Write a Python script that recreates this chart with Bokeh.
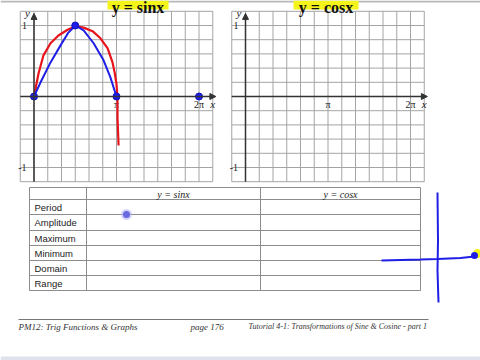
import math
from bokeh.plotting import figure
from bokeh.models import Range1d, Arrow, NormalHead
from bokeh.core.properties import value
from bokeh.embed import file_html
from bokeh.resources import INLINE

PI = math.pi

# ---------------- data ----------------
graph_titles = ["y = sinx", "y = cosx"]
x_tick_labels = ["π", "2π"]
x_tick_values = [PI, 2 * PI]
y_tick_labels = ["1", "-1"]
y_tick_values = [1.0, -1.0]

# hand-drawn sketch on the sine graph (x in radians, y in units)
red_x = [0.0, 0.17, 0.36, 0.63, 0.93, 1.28, 1.58, 1.89, 2.23, 2.53, 2.80, 2.99, 3.07, 3.14, 3.18, 3.18, 3.22]
red_y = [0.0, 0.32, 0.58, 0.75, 0.86, 0.94, 0.99, 0.97, 0.92, 0.82, 0.68, 0.48, 0.34, 0.18, -0.01, -0.30, -0.69]
blue_x = [0.0, 0.25, 0.63, 1.01, 1.31, 1.58, 1.89, 2.27, 2.65, 2.91, 3.14]
blue_y = [0.0, 0.20, 0.48, 0.72, 0.90, 1.0, 0.93, 0.75, 0.51, 0.27, 0.0]
dot_x = [0.0, PI / 2, PI, 2 * PI]
dot_y = [0.0, 1.0, 0.0, 0.0]

# table
col_headers = ["y = sinx", "y = cosx"]
row_labels = ["Period", "Amplitude", "Maximum", "Minimum", "Domain", "Range"]

# footer
footer_left = "PM12: Trig Functions & Graphs"
footer_mid = "page 176"
footer_right = "Tutorial 4-1: Transformations of Sine & Cosine - part 1"

# hand strokes at the right of the page (page coordinates)
stroke_v_x = [437, 437.5, 437, 438]
stroke_v_y = [192, 240, 270, 302]
stroke_h_x = [381, 420, 437, 460, 474]
stroke_h_y = [260, 259, 258.5, 257.5, 256]

# ---------------- layout constants ----------------
W, H = 480, 360
K = 82.5 / PI          # px per radian
U = 71.0               # px per unit
AX_Y = 96.0            # pixel row of the x axis
ORIGINS = [33.5, 245.0]
SERIF = value("Liberation Serif")
SANS = value("Liberation Sans")

p = figure(width=W, height=H, x_range=Range1d(0, W), y_range=Range1d(H, 0),
           min_border=0, toolbar_location=None, output_backend="svg",
           x_axis_location=None, y_axis_location=None)
p.grid.visible = False
p.outline_line_color = None
p.background_fill_color = "white"
p.border_fill_color = "white"

p.extra_y_ranges = {"G": Range1d(-(H - AX_Y) / U, AX_Y / U)}
p.extra_x_ranges = {}
for i, ox in enumerate(ORIGINS):
    p.extra_x_ranges["G%d" % i] = Range1d(-ox / K, (W - ox) / K)

# top page border
p.segment(x0=[0], y0=[1], x1=[W], y1=[1], line_color="#b8b8b8", line_width=2)

grid_x = [k * PI / 6 for k in range(-1, 14)]
grid_y = [round(j * 0.2, 1) for j in range(-6, 7)]
xmin, xmax = -PI / 6, 13 * PI / 6

for i, ox in enumerate(ORIGINS):
    xr = "G%d" % i
    kw = dict(x_range_name=xr, y_range_name="G")
    # grid
    p.segment(x0=grid_x, y0=[-1.2] * len(grid_x), x1=grid_x, y1=[1.2] * len(grid_x),
              line_color="#a4a4a4", line_width=1, **kw)
    p.segment(x0=[xmin] * len(grid_y), y0=grid_y, x1=[xmax] * len(grid_y), y1=grid_y,
              line_color="#a4a4a4", line_width=1, **kw)
    # axes with arrows
    p.add_layout(Arrow(end=NormalHead(size=6, fill_color="#333333", line_color="#333333"),
                       x_start=xmin, y_start=0, x_end=xmax + 0.12, y_end=0,
                       line_color="#333333", line_width=1.5, **kw))
    p.add_layout(Arrow(end=NormalHead(size=6, fill_color="#333333", line_color="#333333"),
                       x_start=0, y_start=-1.2, x_end=0, y_end=1.17,
                       line_color="#333333", line_width=1.5, **kw))
    # tick labels
    p.text(x=x_tick_values, y=[-0.11] * 2, text=x_tick_labels, text_font=SERIF,
           text_font_size="10px", text_align="center", text_baseline="middle",
           text_color="#222222", **kw)
    p.text(x=[-0.36, -0.44], y=y_tick_values, text=y_tick_labels, text_font=SERIF,
           text_font_size="10px", text_align="center", text_baseline="middle",
           text_color="#222222", **kw)
    p.text(x=[-0.25], y=[1.17], text=["y"], text_font=SERIF, text_font_style="italic",
           text_font_size="11px", text_align="center", text_baseline="middle",
           text_color="#222222", **kw)
    p.text(x=[6.80], y=[-0.10], text=["x"], text_font=SERIF, text_font_style="italic",
           text_font_size="11px", text_align="center", text_baseline="middle",
           text_color="#222222", **kw)

# titles with yellow highlight
title_cx = [137.5, 325.5]
title_w = [61, 65]
p.rect(x=title_cx, y=[4.5, 4.5], width=title_w, height=[9, 9],
       fill_color="#f4f41a", line_color=None)
p.text(x=title_cx, y=[7, 7], text=graph_titles, text_font=SERIF, text_font_style="bold",
       text_font_size="16px", text_align="center", text_baseline="alphabetic",
       text_color="#111111")

# sketch on sine graph
kw0 = dict(x_range_name="G0", y_range_name="G")
p.line(red_x, red_y, line_color="#e8141c", line_width=2.2, **kw0)
p.line(blue_x, blue_y, line_color="#1e1ee6", line_width=2, **kw0)
p.scatter(dot_x, dot_y, size=7, fill_color="#1e1ee6", line_color="#1010c0", **kw0)

# ---------------- table ----------------
TX0, TX1, TX2, TX3 = 29, 86, 260, 420
row_edges = [187, 199, 214, 230, 245, 260, 275, 290]
tc = "#8c8c8c"
p.segment(x0=[TX0] * len(row_edges), y0=row_edges, x1=[TX3] * len(row_edges), y1=row_edges,
          line_color=tc, line_width=1)
p.segment(x0=[TX0, TX1, TX2, TX3], y0=[row_edges[0]] * 4, x1=[TX0, TX1, TX2, TX3],
          y1=[row_edges[-1]] * 4, line_color=tc, line_width=1)
p.text(x=[(TX1 + TX2) / 2, (TX2 + TX3) / 2], y=[193.5, 193.5], text=col_headers,
       text_font=SERIF, text_font_style="italic", text_font_size="10px",
       text_align="center", text_baseline="middle", text_color="#222222")
row_mid = [(row_edges[i + 1] + row_edges[i + 2]) / 2 for i in range(len(row_labels))]
p.text(x=[34] * len(row_labels), y=row_mid, text=row_labels, text_font=SANS,
       text_font_size="9.5px", text_align="left", text_baseline="middle",
       text_color="#222222")
# pointer dot
p.scatter([126], [214], size=11, fill_color="#b8b8f4", line_color=None, fill_alpha=0.6)
p.scatter([126], [214], size=7, fill_color="#6a6ae0", line_color=None)

# hand strokes on right
p.line(stroke_v_x, stroke_v_y, line_color="#1e1ee6", line_width=2)
p.line(stroke_h_x, stroke_h_y, line_color="#1e1ee6", line_width=2)
p.scatter([477], [253], size=9, fill_color="#f4f41a", line_color=None)
p.scatter([474], [255], size=7, fill_color="#1e1ee6", line_color=None)

# ---------------- footer ----------------
p.segment(x0=[18], y0=[319], x1=[428], y1=[319], line_color="#777777", line_width=1)
p.text(x=[18, 190], y=[326, 326], text=[footer_left, footer_mid],
       text_font=SERIF, text_font_style="italic", text_font_size="9px",
       text_align="left", text_baseline="middle", text_color="#333333")
p.text(x=[248], y=[326], text=[footer_right],
       text_font=SERIF, text_font_style="italic", text_font_size="8px",
       text_align="left", text_baseline="middle", text_color="#333333")
# bottom band
p.quad(left=[0], right=[W], top=[356], bottom=[H], fill_color="#dde2ec", line_color=None)

open("out.html", "w").write(file_html(p, INLINE))
